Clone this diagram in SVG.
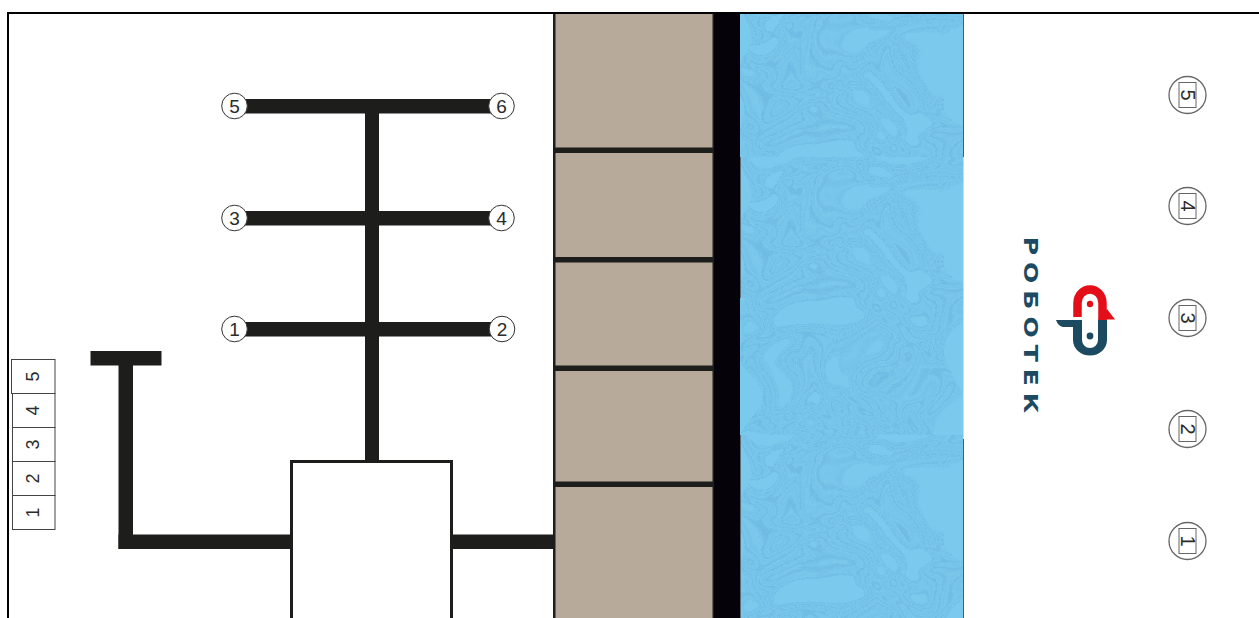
<svg xmlns="http://www.w3.org/2000/svg" width="1259" height="618" viewBox="0 0 1259 618">
<style>
.t{font-family:"Liberation Sans",Arial,sans-serif;fill:#2b2b2a;text-anchor:middle}
.c{fill:#fff;stroke:#333;stroke-width:1}
.cell{fill:#fff;stroke:#444;stroke-width:1}
.bar{fill:#1d1d1b}
.brick{fill:#b7aa9b}
.rc{fill:#fff;stroke:#666;stroke-width:1.300}
.rb{fill:#fff;stroke:#666;stroke-width:1}
.n{font-size:19px}
.m{font-size:18px}
.r{font-size:20px}
</style>
<defs>
<filter id="marble" filterUnits="userSpaceOnUse" x="740" y="0" width="224" height="290" color-interpolation-filters="sRGB">
<feTurbulence type="fractalNoise" baseFrequency="0.008 0.01" numOctaves="2" seed="7" result="warp"/>
<feTurbulence type="fractalNoise" baseFrequency="0.018 0.026" numOctaves="2" seed="21" result="base"/>
<feDisplacementMap in="base" in2="warp" scale="140" xChannelSelector="R" yChannelSelector="G" result="swirl"/>
<feColorMatrix in="swirl" type="matrix" values="0 0 0 0 0.40  0 0 0 0 0.69  0 0 0 0 0.87  2.600 0 0 0 -0.800" result="m"/>
<feComponentTransfer in="m" result="bands"><feFuncA type="table" tableValues="0 0.55 0.05 0.3 0 0.6 0.05 0.3 0 0.55 0.05 0.3 0 0.6 0.05 0.3 0 0.55 0.05 0.3 0"/></feComponentTransfer>
<feGaussianBlur in="bands" stdDeviation="0.6" result="soft"/>
<feFlood flood-color="#7bc9ec" result="bg"/>
<feMerge><feMergeNode in="bg"/><feMergeNode in="soft"/></feMerge>
</filter>
<rect id="waterTile" x="740" y="0" width="224" height="290" filter="url(#marble)"/>
<clipPath id="w1"><rect x="740" y="14" width="223.500" height="143"/></clipPath>
<clipPath id="w2"><rect x="740" y="157" width="223.500" height="278"/></clipPath>
<clipPath id="w3"><rect x="740" y="435" width="223.500" height="183"/></clipPath>
</defs>
<rect width="1259" height="618" fill="#fff"/>
<g id="wall">
<rect x="554" y="14" width="160" height="604" class="brick"/>
<g fill="#1d1d1b">
<rect x="553" y="14" width="2.500" height="604"/>
<rect x="712.500" y="14" width="2" height="604"/>
<rect x="553" y="147.500" width="161" height="5.500"/>
<rect x="553" y="257" width="161" height="5.500"/>
<rect x="553" y="365.500" width="161" height="5.500"/>
<rect x="553" y="481.500" width="161" height="5.500"/>
</g>
<rect x="714" y="14" width="26" height="604" fill="#05020a"/>
</g>
<g id="water">
<g clip-path="url(#w1)"><use href="#waterTile"/></g>
<g clip-path="url(#w2)"><use href="#waterTile" transform="translate(0 157)"/></g>
<g clip-path="url(#w3)"><use href="#waterTile" transform="translate(0 435)"/></g>
<rect x="963" y="14" width="1" height="143" fill="#3c6478"/>
<rect x="963" y="439" width="1" height="179" fill="#3c6478"/>
<rect x="740" y="157" width="1" height="141" fill="#5a6c78"/>
<rect x="740" y="435" width="1" height="183" fill="#5a6c78"/>
</g>
<g id="frame" fill="#000">
<rect x="7" y="12" width="1252" height="2"/>
<rect x="7" y="12" width="2" height="606"/>
</g>
<g id="connectors">
<rect class="bar" x="365" y="106" width="14" height="355"/>
<rect class="bar" x="234" y="99" width="268" height="14.500"/>
<rect class="bar" x="234" y="211" width="268" height="14.500"/>
<rect class="bar" x="234" y="322" width="268" height="14.500"/>
<rect class="bar" x="90.500" y="351" width="71" height="14.500"/>
<rect class="bar" x="118.500" y="358" width="14.500" height="191"/>
<rect class="bar" x="118.500" y="534.500" width="173" height="14.500"/>
<rect class="bar" x="452" y="534.500" width="102" height="14.500"/>
</g>
<g id="controller"><rect x="291.500" y="461.500" width="160" height="170" fill="#fff" stroke="#1d1d1b" stroke-width="3"/></g>
<g id="p5"><circle class="c" cx="234.500" cy="106" r="12.800"/><text class="t n" x="234.500" y="113">5</text></g>
<g id="p6"><circle class="c" cx="501.500" cy="106" r="12.800"/><text class="t n" x="501.500" y="113">6</text></g>
<g id="p3"><circle class="c" cx="234.500" cy="218" r="12.800"/><text class="t n" x="234.500" y="225">3</text></g>
<g id="p4"><circle class="c" cx="501.500" cy="218" r="12.800"/><text class="t n" x="501.500" y="225">4</text></g>
<g id="p1"><circle class="c" cx="234.500" cy="329" r="12.800"/><text class="t n" x="234.500" y="336">1</text></g>
<g id="p2"><circle class="c" cx="502" cy="329" r="12.800"/><text class="t n" x="502" y="336">2</text></g>
<g id="legend">
<g id="l1"><rect class="cell" x="12.500" y="495.500" width="42.500" height="34"/><text class="t m" transform="translate(39 512.500) rotate(-90)">1</text></g>
<g id="l2"><rect class="cell" x="12.500" y="461.500" width="42.500" height="34"/><text class="t m" transform="translate(39 478.500) rotate(-90)">2</text></g>
<g id="l3"><rect class="cell" x="12.500" y="427.500" width="42.500" height="34"/><text class="t m" transform="translate(39 444.500) rotate(-90)">3</text></g>
<g id="l4"><rect class="cell" x="12.500" y="393.500" width="42.500" height="34"/><text class="t m" transform="translate(39 410.500) rotate(-90)">4</text></g>
<g id="l5"><rect class="cell" x="11.500" y="359.500" width="43.500" height="34"/><text class="t m" transform="translate(39 376.500) rotate(-90)">5</text></g>
</g>
<g id="r5"><circle class="rc" cx="1187.500" cy="95" r="18.500"/><rect class="rb" x="1179" y="82.500" width="17" height="25"/><text class="t r" transform="translate(1180.500 95) rotate(90)">5</text></g>
<g id="r4"><circle class="rc" cx="1187.500" cy="206" r="18.500"/><rect class="rb" x="1179" y="193.500" width="17" height="25"/><text class="t r" transform="translate(1180.500 206) rotate(90)">4</text></g>
<g id="r3"><circle class="rc" cx="1187.500" cy="318" r="18.500"/><rect class="rb" x="1179" y="305.500" width="17" height="25"/><text class="t r" transform="translate(1180.500 318) rotate(90)">3</text></g>
<g id="r2"><circle class="rc" cx="1187.500" cy="429" r="18.500"/><rect class="rb" x="1179" y="416.500" width="17" height="25"/><text class="t r" transform="translate(1180.500 429) rotate(90)">2</text></g>
<g id="r1"><circle class="rc" cx="1187.500" cy="541" r="18.500"/><rect class="rb" x="1179" y="528.500" width="17" height="25"/><text class="t r" transform="translate(1180.500 541) rotate(90)">1</text></g>
<g id="logo">
<text transform="translate(1024 328.500) rotate(90) scale(1.250 1)" font-family="'DejaVu Sans',sans-serif" font-weight="700" font-size="20" fill="#1c4a60" text-anchor="middle" letter-spacing="5.600">РОБОТЕК</text>
<path d="M1077.500 317V303A12.500 13.500 0 0 1 1102.500 303V320" fill="none" stroke="#e30e18" stroke-width="8.500"/>
<path d="M1098 319.500H1115L1107 309Z" fill="#e30e18"/>
<circle cx="1090" cy="304" r="3.200" fill="#e30e18"/>
<path d="M1056 320H1082V340A8 8 0 0 0 1098 340V320H1107V340A17 15.500 0 0 1 1073 340V327H1063Q1058 326 1056 320Z" fill="#1c4a60"/>
<circle cx="1090" cy="336" r="3.400" fill="#1c4a60"/>
</g>
</svg>
